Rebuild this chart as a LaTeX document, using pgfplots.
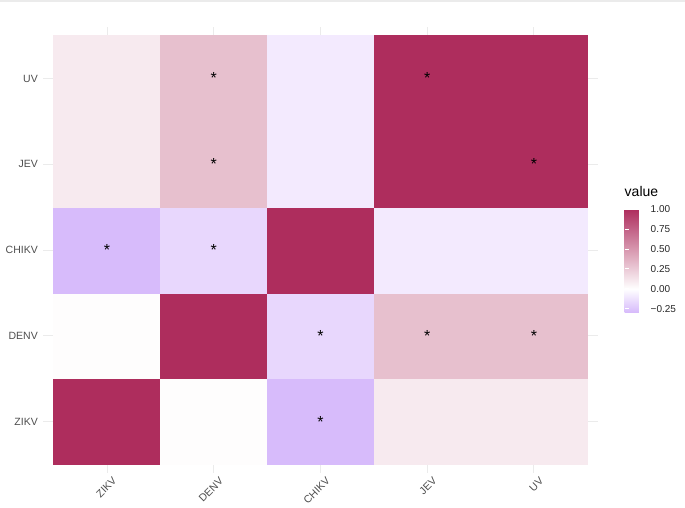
\documentclass[border=0pt]{standalone}
\usepackage{fontspec}
\setmainfont{Liberation Sans}
\usepackage{pgfplots}
\pgfplotsset{compat=1.18}
\definecolor{gridc}{RGB}{235,235,235}
\definecolor{tickc}{RGB}{77,77,77}
\begin{document}
\begin{tikzpicture}
\path[use as bounding box] (-43pt,-34pt) rectangle (642pt,473pt);
\fill[gridc] (-43pt,471pt) rectangle (642pt,473pt);
\begin{axis}[
  scale only axis,
  width=555pt, height=446pt,
  xmin=-0.6, xmax=4.6, ymin=-0.6, ymax=4.6,
  axis line style={draw=none},
  major tick length=0pt,
  grid=major,
  grid style={gridc, line width=1pt},
  xtick={0,1,2,3,4}, ytick={0,1,2,3,4},
  xticklabels={ZIKV,DENV,CHIKV,JEV,UV},
  yticklabels={ZIKV,DENV,CHIKV,JEV,UV},
  tick label style={font=\fontsize{10.5}{12}\selectfont, text=tickc},
  xticklabel style={rotate=45, anchor=north east, inner sep=0pt, xshift=1pt, yshift=-6pt},
  yticklabel style={inner sep=0pt, xshift=-5pt},
  colormap={ggc}{rgb255(0pt)=(215,187,251) rgb255(29pt)=(255,255,255) rgb255(129pt)=(174,45,93)},
  point meta min=-0.29, point meta max=1,
  colorbar,
  colorbar style={
    scale only axis, width=21pt, height=103pt,
    at={(573pt,161pt)}, anchor=south west,
    axis line style={draw=none},
    ytick={-0.25,0,0.25,0.5,0.75,1},
    yticklabels={−0.25,0.00,0.25,0.50,0.75,1.00},
    yticklabel pos=right, ytick pos=both,
    tick align=inside, major tick length=4pt,
    ytick style={white, line width=0.8pt},
    yticklabel style={font=\fontsize{10}{12}\selectfont, text=black!85, inner sep=0pt, xshift=5pt},
    title={value},
    title style={at={(0,1)}, anchor=south west, inner sep=0pt, yshift=6pt, font=\fontsize{14}{14}\selectfont},
  },
]
% correlation matrix, x varies first
\addplot[matrix plot*, mesh/cols=5, point meta=explicit] table[meta=v] {
x y v
0 0 1
1 0 0.01
2 0 -0.29
3 0 0.1
4 0 0.1
0 1 0.01
1 1 1
2 1 -0.17
3 1 0.3
4 1 0.3
0 2 -0.29
1 2 -0.17
2 2 1
3 2 -0.09
4 2 -0.09
0 3 0.1
1 3 0.3
2 3 -0.09
3 3 1
4 3 1
0 4 0.1
1 4 0.3
2 4 -0.09
3 4 1
4 4 1
};
% significance stars
\addplot[draw=none, nodes near coords={*},
  every node near coord/.append style={anchor=center, inner sep=0pt, text=black, font=\fontsize{16}{16}\selectfont}]
  coordinates {(2,0) (2,1) (3,1) (4,1) (0,2) (1,2) (1,3) (4,3) (1,4) (3,4)};
\end{axis}
\end{tikzpicture}
\end{document}
